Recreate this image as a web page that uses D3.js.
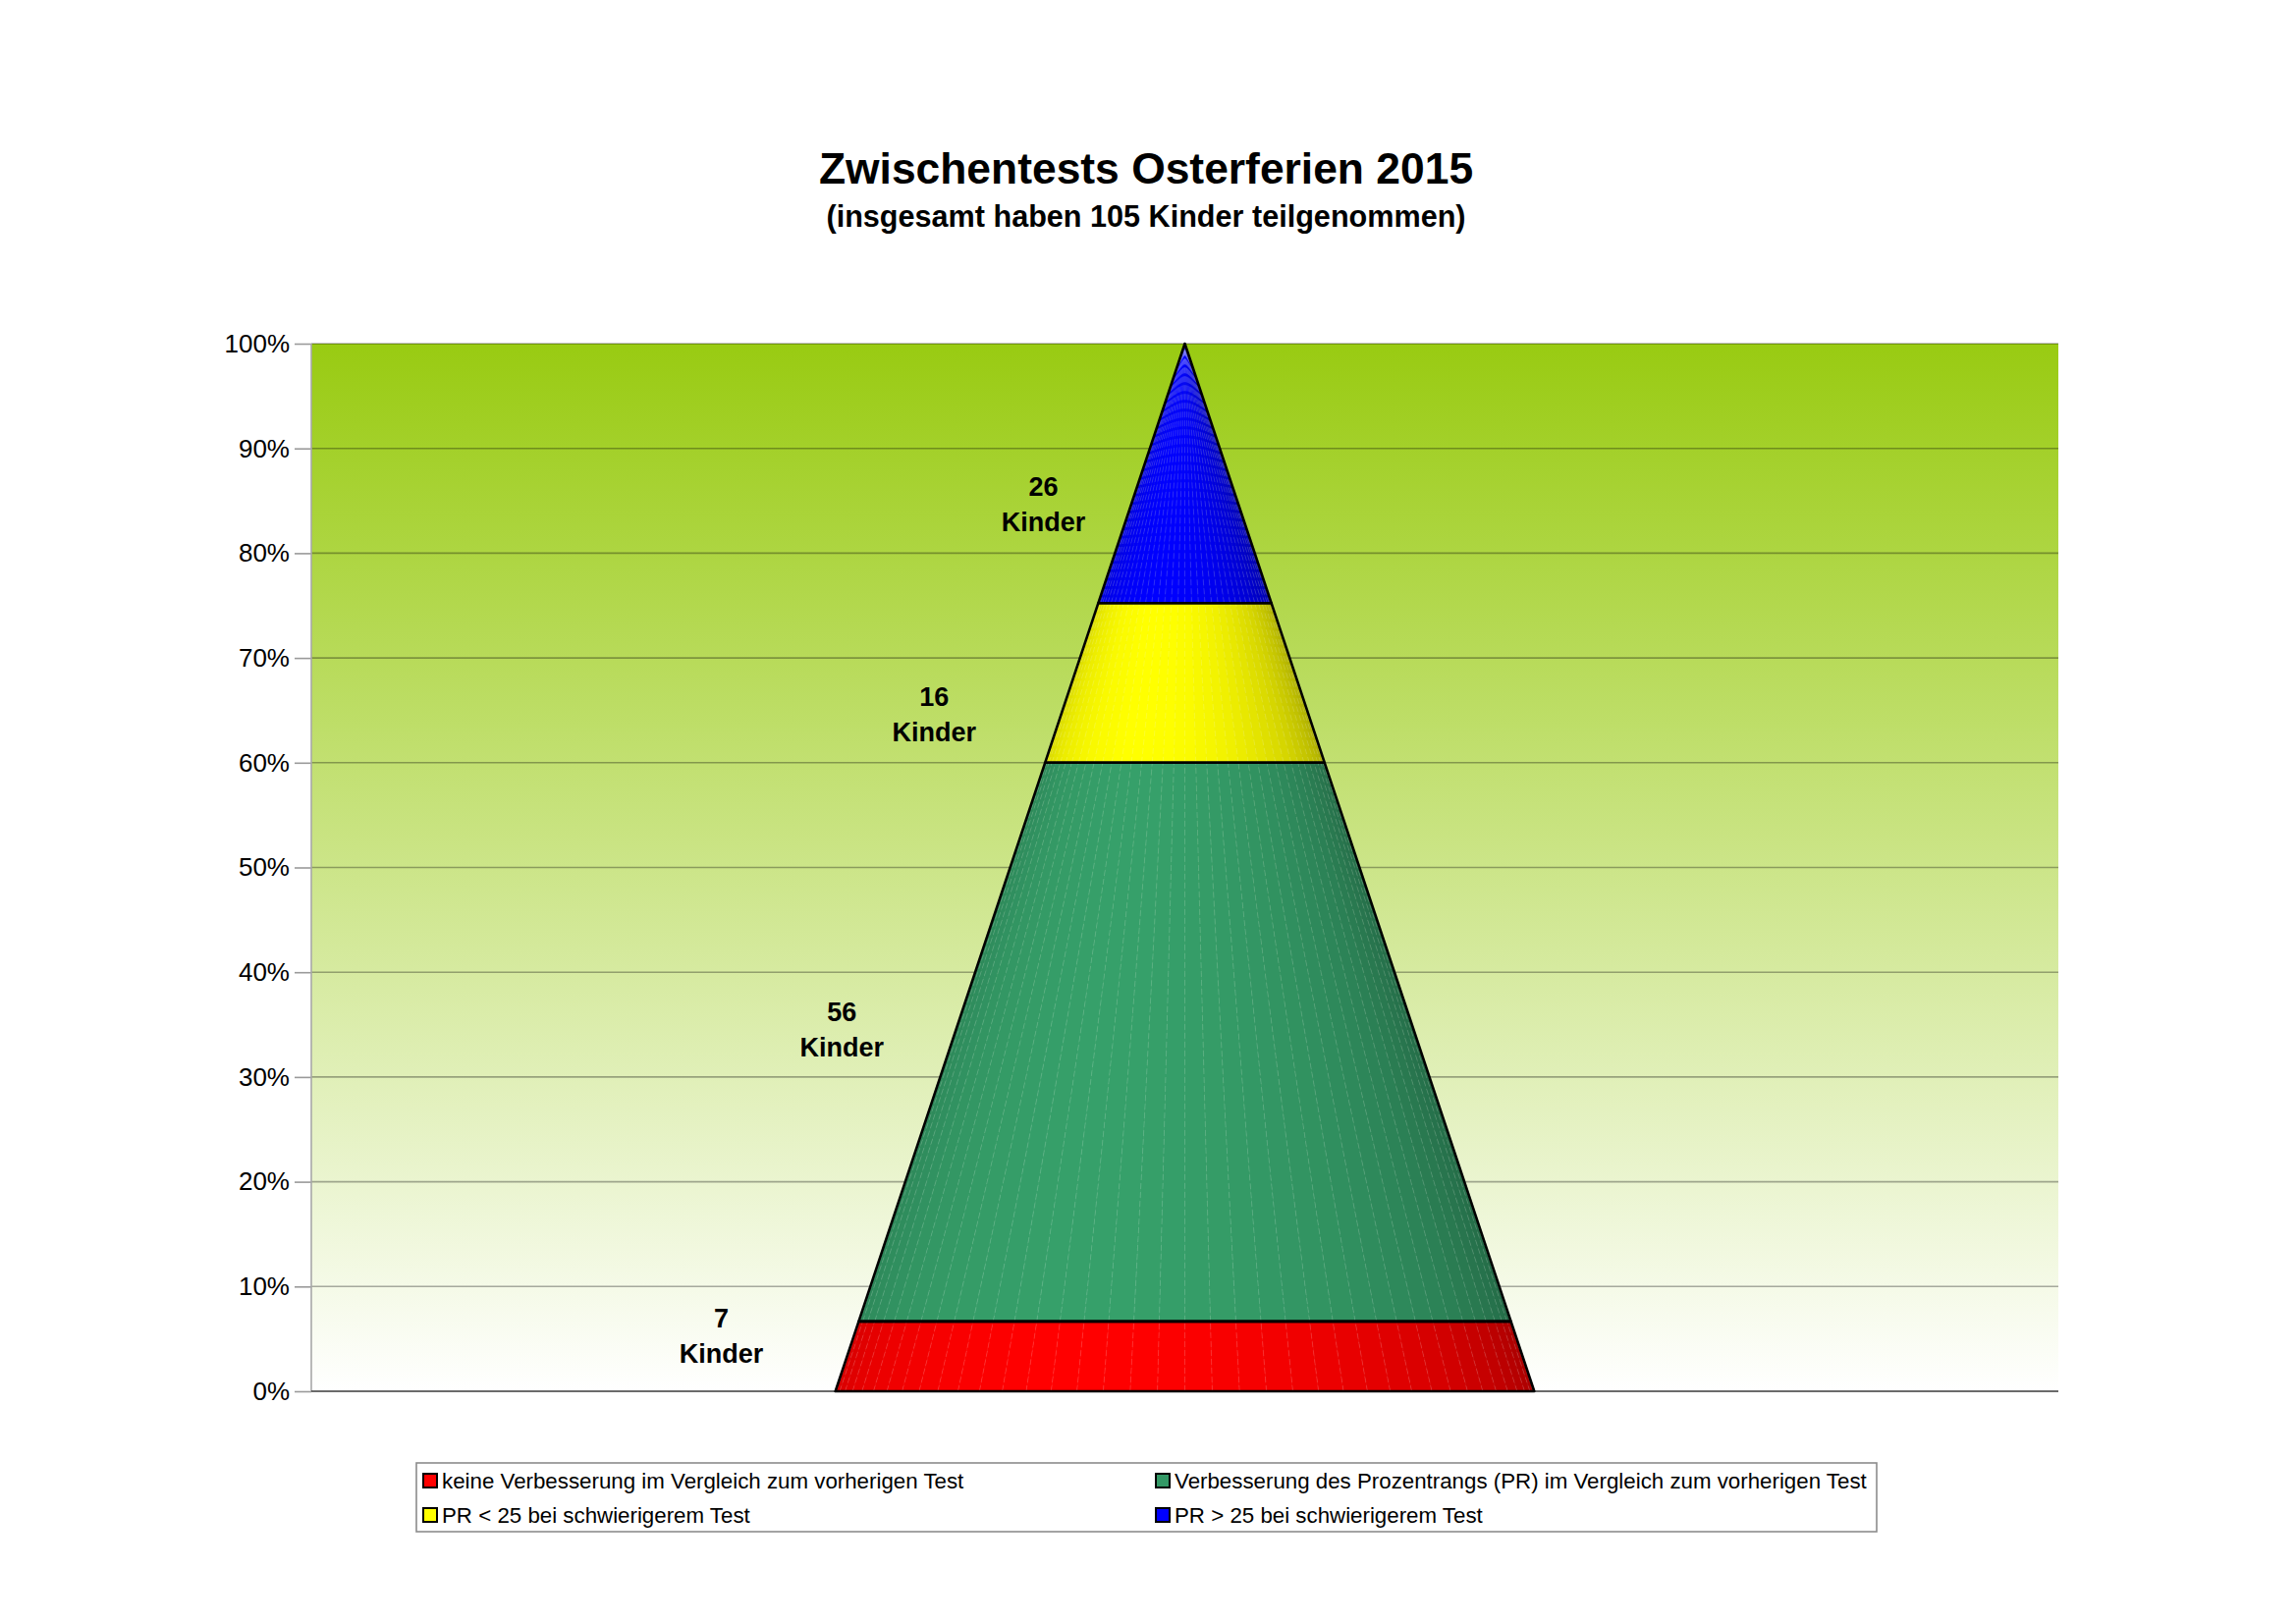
<!DOCTYPE html>
<html>
<head>
<meta charset="utf-8">
<script src="https://cdn.jsdelivr.net/npm/d3@7"></script>
<style>
  body { margin: 0; background: #fff; }
  svg { display: block; }
  text { font-family: "Liberation Sans", Arial, sans-serif; }
</style>
</head>
<body>
<script>
  // chart data
  const categories = [
    "keine Verbesserung im Vergleich zum vorherigen Test",
    "Verbesserung des Prozentrangs (PR) im Vergleich zum vorherigen Test",
    "PR < 25 bei schwierigerem Test",
    "PR > 25 bei schwierigerem Test"
  ];
  const counts = [7, 56, 16, 26];          // Kinder per group, bottom to top
  const seriesColors = ["#ff0000", "#36a06a", "#ffff00", "#0000ff"];
  const legendColors = ["#ff0000", "#339966", "#ffff00", "#0000ff"];
  const yTicks = [0, 0.1, 0.2, 0.3, 0.4, 0.5, 0.6, 0.7, 0.8, 0.9, 1];
  const titleText = "Zwischentests Osterferien 2015";
  const subtitleText = "(insgesamt haben 105 Kinder teilgenommen)";
  const unitLabel = "Kinder";

  const W = 2338, H = 1652;
  const plot = {left: 317, right: 2096, top: 350, bottom: 1417};

  const svg = d3.select("body").append("svg")
      .attr("width", W).attr("height", H)
      .attr("viewBox", "0 0 " + W + " " + H);

  // title
  svg.append("text")
      .attr("x", 1167).attr("y", 187)
      .attr("text-anchor", "middle")
      .attr("font-size", 44.4).attr("font-weight", "bold")
      .text(titleText);
  svg.append("text")
      .attr("x", 1167).attr("y", 231)
      .attr("text-anchor", "middle")
      .attr("font-size", 30.6).attr("font-weight", "bold")
      .text(subtitleText);

  // scales
  const y = d3.scaleLinear().domain([0, 1]).range([plot.bottom, plot.top]);
  const x = d3.scaleBand().domain(["Zwischentests"]).range([plot.left, plot.right]);
  const cx = x("Zwischentests") + x.bandwidth() / 2;
  // cone radius shrinks linearly to zero at the top
  const radius = d3.scaleLinear().domain([0, 1]).range([x.bandwidth() * 0.2, 0]);

  const total = d3.sum(counts);
  let acc = 0;
  const segments = counts.map((c, i) => {
    const s = {i: i, count: c, start: acc / total, end: (acc + c) / total};
    acc += c;
    return s;
  });

  // background wall gradient
  const defs = svg.append("defs");
  const grad = defs.append("linearGradient")
      .attr("id", "wall")
      .attr("gradientUnits", "userSpaceOnUse")
      .attr("x1", 0).attr("x2", 0)
      .attr("y1", y(1)).attr("y2", y(0));
  grad.append("stop").attr("offset", "0%").attr("stop-color", "#99cb12");
  grad.append("stop").attr("offset", "100%").attr("stop-color", "#ffffff");

  svg.append("rect")
      .attr("x", plot.left).attr("y", plot.top)
      .attr("width", plot.right - plot.left)
      .attr("height", plot.bottom - plot.top)
      .attr("fill", "url(#wall)");

  // gridlines
  svg.append("g").selectAll("line")
      .data(yTicks.filter(d => d > 0))
      .enter().append("line")
      .attr("x1", plot.left).attr("x2", plot.right)
      .attr("y1", d => y(d)).attr("y2", d => y(d))
      .attr("stroke", "rgba(0,0,0,0.32)")
      .attr("stroke-width", 1.6);

  // y axis
  const yAxis = d3.axisLeft(y)
      .tickValues(yTicks)
      .tickFormat(d3.format(".0%"))
      .tickSize(17)
      .tickPadding(5);
  const gy = svg.append("g")
      .attr("transform", "translate(" + plot.left + ",0)")
      .call(yAxis);
  gy.select(".domain").remove();
  gy.selectAll(".tick line").attr("stroke", "#9a9a9a").attr("stroke-width", 1.6);
  gy.selectAll(".tick text")
      .attr("font-size", 26)
      .attr("font-family", "Liberation Sans, Arial, sans-serif")
      .attr("fill", "#000");

  svg.append("line")
      .attr("x1", plot.left).attr("x2", plot.left)
      .attr("y1", plot.top).attr("y2", plot.bottom)
      .attr("stroke", "#a8a8a8").attr("stroke-width", 1.6);
  svg.append("line")
      .attr("x1", plot.left).attr("x2", plot.right)
      .attr("y1", plot.bottom).attr("y2", plot.bottom)
      .attr("stroke", "#3a3a3a").attr("stroke-width", 1.6);

  // cone facets (front half of the cone, left edge = 0, right edge = PI)
  const N = 40;
  const facets = d3.range(N).map(k => ({a0: Math.PI * k / N, a1: Math.PI * (k + 1) / N}));
  const lightAngle = 1.25;
  const light = a => 0.45 + 0.55 * (0.5 + 0.5 * Math.cos(a - lightAngle));
  const px = (a, p) => cx - radius(p) * Math.cos(a);

  const cone = svg.append("g");
  segments.forEach(seg => {
    const g = cone.append("g");
    const shade = f => d3.interpolateRgb("#000", seriesColors[seg.i])(light((f.a0 + f.a1) / 2));
    g.selectAll("polygon")
      .data(facets)
      .enter().append("polygon")
        .attr("points", f => [
          [px(f.a0, seg.start), y(seg.start)],
          [px(f.a1, seg.start), y(seg.start)],
          [px(f.a1, seg.end), y(seg.end)],
          [px(f.a0, seg.end), y(seg.end)]
        ].map(p => p.join(",")).join(" "))
        .attr("fill", shade)
        .attr("stroke", shade)
        .attr("stroke-width", 0.6);
    // faint facet edges
    g.selectAll("line")
      .data(facets.slice(1))
      .enter().append("line")
        .attr("x1", f => px(f.a0, seg.start)).attr("y1", y(seg.start))
        .attr("x2", f => px(f.a0, seg.end)).attr("y2", y(seg.end))
        .attr("stroke", "rgba(255,255,255,0.2)")
        .attr("stroke-width", 0.8)
        .attr("stroke-dasharray", "6,3");
  });

  // segment outlines
  cone.selectAll("polygon.outline")
    .data(segments)
    .enter().append("polygon")
      .attr("class", "outline")
      .attr("points", s => [
        [cx - radius(s.start), y(s.start)],
        [cx + radius(s.start), y(s.start)],
        [cx + radius(s.end), y(s.end)],
        [cx - radius(s.end), y(s.end)]
      ].map(p => p.join(",")).join(" "))
      .attr("fill", "none")
      .attr("stroke", "#000")
      .attr("stroke-width", 2.6)
      .attr("stroke-linejoin", "round");

  // data labels, left of the cone at each segment's middle (small nudges as in the original)
  const labelNudge = [[-10, -21], [6, -13], [-22, 31], [18, 31]];
  const labels = svg.append("g").selectAll("text")
    .data(segments)
    .enter().append("text")
      .attr("text-anchor", "middle")
      .attr("font-size", 27)
      .attr("font-weight", "bold")
      .attr("transform", s => {
        const m = (s.start + s.end) / 2;
        const n = labelNudge[s.i];
        return "translate(" + (cx - radius(m) - 118 + n[0]) + "," + (y(m) + n[1]) + ")";
      });
  labels.append("tspan").attr("x", 0).attr("y", -8).text(s => s.count);
  labels.append("tspan").attr("x", 0).attr("y", 28).text(unitLabel);

  // legend
  const legend = svg.append("g").attr("transform", "translate(424,1490)");
  legend.append("rect")
      .attr("width", 1487).attr("height", 70)
      .attr("fill", "#fff")
      .attr("stroke", "#8c8c8c").attr("stroke-width", 1.6);
  const items = legend.selectAll("g.item")
    .data(categories)
    .enter().append("g")
      .attr("class", "item")
      .attr("transform", (d, i) => "translate(" + (7 + (i % 2) * 746) + "," + (11 + Math.floor(i / 2) * 35) + ")");
  items.append("rect")
      .attr("width", 14).attr("height", 14)
      .attr("fill", (d, i) => legendColors[i])
      .attr("stroke", "#000").attr("stroke-width", 2);
  items.append("text")
      .attr("x", 19).attr("y", 14.5)
      .attr("font-size", 22.3)
      .text(d => d);
</script>
</body>
</html>
